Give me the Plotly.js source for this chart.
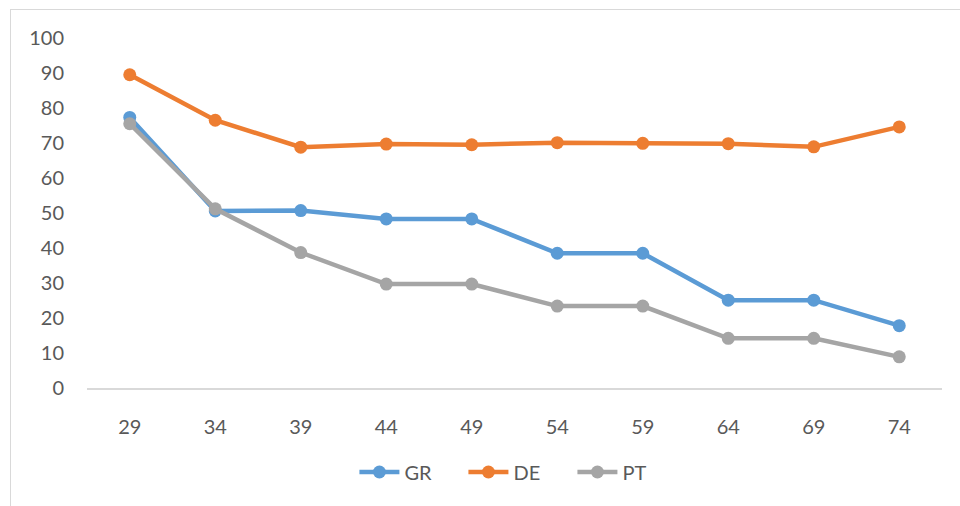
<!DOCTYPE html>
<html>
<head>
<meta charset="utf-8">
<script src="https://cdn.plot.ly/plotly-3.0.1.min.js"></script>
<style>
  html, body { margin: 0; padding: 0; background: #fff; }
  #wrap { position: relative; width: 960px; height: 506px; overflow: hidden; }
  #chart { position: absolute; left: 0; top: 0; width: 960px; height: 506px; }
  #frame { position: absolute; left: 10px; top: 9px; width: 980px; height: 520px;
           border: 1px solid #D9D9D9; pointer-events: none; box-sizing: border-box; }
</style>
</head>
<body>
<div id="wrap">
  <div id="chart"></div>
  <div id="frame"></div>
</div>
<script>
const categories = ["29", "34", "39", "44", "49", "54", "59", "64", "69", "74"];
const GR = [77.3, 50.6, 50.7, 48.3, 48.3, 38.5, 38.5, 25.1, 25.1, 17.8];
const DE = [89.5, 76.5, 68.8, 69.7, 69.5, 70.1, 69.9, 69.8, 68.9, 74.6];
const PT = [75.5, 51.2, 38.7, 29.7, 29.7, 23.4, 23.4, 14.2, 14.2, 8.9];
const yTicks = [0, 10, 20, 30, 40, 50, 60, 70, 80, 90, 100];

const FONT = "Lato, 'Open Sans', 'Liberation Sans', sans-serif";

function series(name, values, color) {
  return {
    type: "scatter",
    mode: "lines+markers",
    name: name,
    x: categories,
    y: values,
    line: { color: color, width: 4.5 },
    marker: { color: color, size: 13 }
  };
}

const data = [
  series("GR", GR, "#5B9BD5"),
  series("DE", DE, "#ED7D31"),
  series("PT", PT, "#A5A5A5")
];

const layout = {
  width: 960,
  height: 506,
  margin: { l: 87, r: 18, t: 38, b: 118, autoexpand: false },
  paper_bgcolor: "rgba(0,0,0,0)",
  plot_bgcolor: "rgba(0,0,0,0)",
  font: { family: FONT, size: 20, color: "#595959" },
  showlegend: true,
  legend: {
    orientation: "h",
    x: 0.504,
    xanchor: "center",
    y: -0.24,
    yanchor: "middle",
    font: { family: FONT, size: 20, color: "#595959" },
    itemwidth: 40,
    entrywidth: 54,
    traceorder: "normal"
  },
  xaxis: {
    type: "category",
    range: [-0.5, 9.5],
    showgrid: false,
    zeroline: false,
    showline: true,
    linecolor: "#D9D9D9",
    linewidth: 1.5,
    ticks: "",
    ticklabelstandoff: 20,
    tickfont: { family: FONT, size: 20, color: "#595959" },
    fixedrange: true
  },
  yaxis: {
    range: [0, 100],
    tickvals: yTicks,
    ticktext: yTicks.map(String),
    showgrid: false,
    zeroline: false,
    showline: false,
    ticks: "",
    ticklabelstandoff: 22,
    tickfont: { family: FONT, size: 20, color: "#595959" },
    fixedrange: true
  }
};

Plotly.newPlot("chart", data, layout, { displayModeBar: false, staticPlot: true });
</script>
</body>
</html>
